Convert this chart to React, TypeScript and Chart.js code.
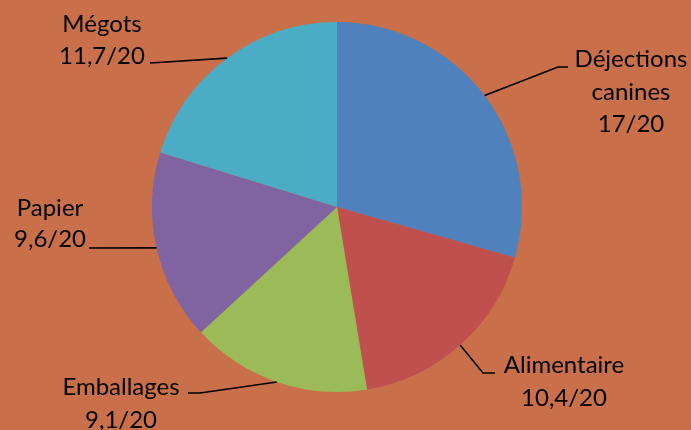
import { useEffect, useRef } from "react";
import { Chart, registerables } from "chart.js";

Chart.register(...registerables);

// ---- data ----
const categories = ["Déjections canines", "Alimentaire", "Emballages", "Papier", "Mégots"];
const categoryLines = [["Déjections", "canines"], ["Alimentaire"], ["Emballages"], ["Papier"], ["Mégots"]];
const scores = [17, 10.4, 9.1, 9.6, 11.7];
const scoreMax = 20;

// ---- styles ----
const sliceColors = ["#4F81BD", "#C0504D", "#9BBB59", "#8064A2", "#4BACC6"];
const backgroundColor = "#C9704B";
const FONT = "24px Lato, 'Open Sans', sans-serif";

// label layout: elbow point, end of leader, text centre x, first baseline, line height
const labelLayout = [
  { elbow: [558, 67], end: [568, 67], tx: 631, ty: 67, lh: 32.5 },
  { elbow: [483, 373], end: [495, 373], tx: 564, ty: 373, lh: 33 },
  { elbow: [200, 393], end: [188, 393], tx: 121, ty: 395, lh: 33 },
  { elbow: [89, 248], end: [89, 248], tx: 50, ty: 216, lh: 31 },
  { elbow: [150, 63], end: [150, 63], tx: 102, ty: 32, lh: 32 },
];

const fmt = (v: number) => String(v).replace(".", ",") + "/" + scoreMax;

const leaderPlugin = {
  id: "leaders",
  afterDraw(chart: any) {
    const ctx = chart.ctx as CanvasRenderingContext2D;
    const meta = chart.getDatasetMeta(0);
    ctx.save();
    ctx.strokeStyle = "#000";
    ctx.lineWidth = 1.6;
    ctx.fillStyle = "#000";
    ctx.font = FONT;
    ctx.textAlign = "center";
    ctx.textBaseline = "alphabetic";
    meta.data.forEach((arc: any, i: number) => {
      const p = arc.getProps(["x", "y", "startAngle", "endAngle", "outerRadius"], true);
      const mid = (p.startAngle + p.endAngle) / 2;
      const sx = p.x + Math.cos(mid) * p.outerRadius;
      const sy = p.y + Math.sin(mid) * p.outerRadius;
      const L = labelLayout[i];
      ctx.beginPath();
      ctx.moveTo(sx, sy);
      ctx.lineTo(L.elbow[0], L.elbow[1]);
      ctx.lineTo(L.end[0], L.end[1]);
      ctx.stroke();
      const lines = [...categoryLines[i], fmt(scores[i])];
      lines.forEach((t, k) => ctx.fillText(t, L.tx, L.ty + k * L.lh));
    });
    ctx.restore();
  },
};

export default function App() {
  const ref = useRef<HTMLCanvasElement>(null);
  useEffect(() => {
    if (!ref.current) return;
    const chart = new Chart(ref.current, {
      type: "pie",
      data: {
        labels: categories,
        datasets: [
          {
            data: scores,
            backgroundColor: sliceColors,
            borderWidth: 0,
          },
        ],
      },
      options: {
        responsive: false,
        animation: false,
        layout: { padding: { left: 0, right: 17, top: 22, bottom: 38 } },
        plugins: { legend: { display: false }, tooltip: { enabled: false } },
      },
      plugins: [leaderPlugin],
    });
    return () => chart.destroy();
  }, []);
  return (
    <div
      style={{
        position: "fixed",
        left: 0,
        top: 0,
        width: 691,
        height: 430,
        background: backgroundColor,
      }}
    >
      <canvas ref={ref} width={691} height={430} style={{ width: 691, height: 430, display: "block" }} />
    </div>
  );
}
